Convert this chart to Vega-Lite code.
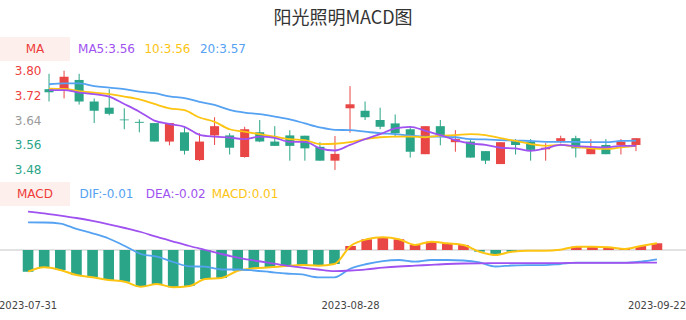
{
  "$schema": "https://vega.github.io/schema/vega-lite/v6.json",
  "width": 686,
  "height": 290,
  "autosize": {"type": "none"},
  "padding": {"top": 30, "left": 0, "right": 0, "bottom": 0},
  "background": "white",
  "title": {"text": "阳光照明MACD图", "font": "Noto Sans CJK SC", "fontSize": 18, "fontWeight": "normal", "color": "#333333", "anchor": "middle", "frame": "group", "offset": 2},
  "config": {"view": {"stroke": null}, "font": "DejaVu Sans"},
  "datasets": {
    "k": [
      {"date": "2023-07-31", "open": 3.74, "close": 3.73, "high": 3.79, "low": 3.70, "ma5": 3.737, "ma10": 3.742, "ma20": 3.756, "dif": 0.0346, "dea": 0.0481, "macd": -0.0271},
      {"date": "2023-08-01", "open": 3.74, "close": 3.78, "high": 3.80, "low": 3.71, "ma5": 3.737, "ma10": 3.741, "ma20": 3.759, "dif": 0.0344, "dea": 0.0459, "macd": -0.0216},
      {"date": "2023-08-02", "open": 3.77, "close": 3.70, "high": 3.79, "low": 3.69, "ma5": 3.729, "ma10": 3.734, "ma20": 3.759, "dif": 0.0331, "dea": 0.0431, "macd": -0.025},
      {"date": "2023-08-03", "open": 3.70, "close": 3.67, "high": 3.71, "low": 3.63, "ma5": 3.724, "ma10": 3.729, "ma20": 3.750, "dif": 0.0263, "dea": 0.04, "macd": -0.0313},
      {"date": "2023-08-04", "open": 3.68, "close": 3.66, "high": 3.74, "low": 3.655, "ma5": 3.716, "ma10": 3.724, "ma20": 3.745, "dif": 0.0209, "dea": 0.0363, "macd": -0.0341},
      {"date": "2023-08-07", "open": 3.642, "close": 3.639, "high": 3.678, "low": 3.61, "ma5": 3.692, "ma10": 3.716, "ma20": 3.740, "dif": 0.0144, "dea": 0.0321, "macd": -0.0375},
      {"date": "2023-08-08", "open": 3.634, "close": 3.631, "high": 3.642, "low": 3.60, "ma5": 3.667, "ma10": 3.707, "ma20": 3.732, "dif": 0.005, "dea": 0.0275, "macd": -0.0396},
      {"date": "2023-08-09", "open": 3.63, "close": 3.57, "high": 3.63, "low": 3.57, "ma5": 3.638, "ma10": 3.692, "ma20": 3.727, "dif": -0.005, "dea": 0.0225, "macd": -0.0459},
      {"date": "2023-08-10", "open": 3.57, "close": 3.63, "high": 3.63, "low": 3.558, "ma5": 3.627, "ma10": 3.678, "ma20": 3.717, "dif": -0.0084, "dea": 0.0163, "macd": -0.0425},
      {"date": "2023-08-11", "open": 3.60, "close": 3.54, "high": 3.618, "low": 3.528, "ma5": 3.618, "ma10": 3.672, "ma20": 3.711, "dif": -0.015, "dea": 0.0106, "macd": -0.0466},
      {"date": "2023-08-14", "open": 3.51, "close": 3.57, "high": 3.597, "low": 3.507, "ma5": 3.592, "ma10": 3.648, "ma20": 3.699, "dif": -0.0204, "dea": 0.005, "macd": -0.045},
      {"date": "2023-08-15", "open": 3.59, "close": 3.62, "high": 3.649, "low": 3.559, "ma5": 3.586, "ma10": 3.634, "ma20": 3.689, "dif": -0.0209, "dea": 0.0, "macd": -0.0363},
      {"date": "2023-08-16", "open": 3.59, "close": 3.55, "high": 3.597, "low": 3.528, "ma5": 3.583, "ma10": 3.610, "ma20": 3.673, "dif": -0.0244, "dea": -0.005, "macd": -0.035},
      {"date": "2023-08-17", "open": 3.52, "close": 3.61, "high": 3.618, "low": 3.518, "ma5": 3.578, "ma10": 3.602, "ma20": 3.664, "dif": -0.0244, "dea": -0.0094, "macd": -0.0259},
      {"date": "2023-08-18", "open": 3.60, "close": 3.57, "high": 3.64, "low": 3.568, "ma5": 3.586, "ma10": 3.594, "ma20": 3.659, "dif": -0.0256, "dea": -0.0131, "macd": -0.0229},
      {"date": "2023-08-21", "open": 3.57, "close": 3.556, "high": 3.62, "low": 3.556, "ma5": 3.582, "ma10": 3.586, "ma20": 3.651, "dif": -0.0275, "dea": -0.0163, "macd": -0.0216},
      {"date": "2023-08-22", "open": 3.59, "close": 3.556, "high": 3.607, "low": 3.508, "ma5": 3.569, "ma10": 3.578, "ma20": 3.642, "dif": -0.0294, "dea": -0.0194, "macd": -0.02},
      {"date": "2023-08-23", "open": 3.589, "close": 3.548, "high": 3.589, "low": 3.508, "ma5": 3.569, "ma10": 3.575, "ma20": 3.629, "dif": -0.0306, "dea": -0.0221, "macd": -0.0188},
      {"date": "2023-08-24", "open": 3.553, "close": 3.508, "high": 3.568, "low": 3.508, "ma5": 3.548, "ma10": 3.562, "ma20": 3.616, "dif": -0.0341, "dea": -0.0244, "macd": -0.0196},
      {"date": "2023-08-25", "open": 3.508, "close": 3.53, "high": 3.588, "low": 3.478, "ma5": 3.541, "ma10": 3.563, "ma20": 3.608, "dif": -0.0341, "dea": -0.0263, "macd": -0.0175},
      {"date": "2023-08-28", "open": 3.678, "close": 3.691, "high": 3.75, "low": 3.599, "ma5": 3.559, "ma10": 3.568, "ma20": 3.607, "dif": -0.0231, "dea": -0.0256, "macd": 0.005},
      {"date": "2023-08-29", "open": 3.67, "close": 3.649, "high": 3.70, "low": 3.64, "ma5": 3.578, "ma10": 3.578, "ma20": 3.602, "dif": -0.0175, "dea": -0.0241, "macd": 0.0134},
      {"date": "2023-08-30", "open": 3.64, "close": 3.618, "high": 3.68, "low": 3.61, "ma5": 3.594, "ma10": 3.584, "ma20": 3.597, "dif": -0.0138, "dea": -0.0221, "macd": 0.0159},
      {"date": "2023-08-31", "open": 3.629, "close": 3.597, "high": 3.658, "low": 3.584, "ma5": 3.613, "ma10": 3.586, "ma20": 3.594, "dif": -0.0125, "dea": -0.0206, "macd": 0.0134},
      {"date": "2023-09-01", "open": 3.61, "close": 3.537, "high": 3.618, "low": 3.518, "ma5": 3.618, "ma10": 3.586, "ma20": 3.589, "dif": -0.0146, "dea": -0.0196, "macd": 0.0063},
      {"date": "2023-09-04", "open": 3.529, "close": 3.62, "high": 3.62, "low": 3.529, "ma5": 3.605, "ma10": 3.584, "ma20": 3.586, "dif": -0.0125, "dea": -0.0185, "macd": 0.0104},
      {"date": "2023-09-05", "open": 3.62, "close": 3.591, "high": 3.64, "low": 3.558, "ma5": 3.591, "ma10": 3.589, "ma20": 3.586, "dif": -0.0125, "dea": -0.0175, "macd": 0.0084},
      {"date": "2023-09-06", "open": 3.568, "close": 3.578, "high": 3.607, "low": 3.537, "ma5": 3.575, "ma10": 3.591, "ma20": 3.584, "dif": -0.0131, "dea": -0.0169, "macd": 0.0063},
      {"date": "2023-09-07", "open": 3.57, "close": 3.518, "high": 3.575, "low": 3.518, "ma5": 3.564, "ma10": 3.594, "ma20": 3.578, "dif": -0.0156, "dea": -0.0166, "macd": -0.0021},
      {"date": "2023-09-08", "open": 3.539, "close": 3.508, "high": 3.539, "low": 3.497, "ma5": 3.559, "ma10": 3.591, "ma20": 3.577, "dif": -0.0206, "dea": -0.0165, "macd": -0.0063},
      {"date": "2023-09-11", "open": 3.497, "close": 3.568, "high": 3.568, "low": 3.497, "ma5": 3.550, "ma10": 3.581, "ma20": 3.575, "dif": -0.0194, "dea": -0.0164, "macd": -0.0021},
      {"date": "2023-09-12", "open": 3.572, "close": 3.559, "high": 3.578, "low": 3.528, "ma5": 3.548, "ma10": 3.572, "ma20": 3.573, "dif": -0.0188, "dea": -0.0163, "macd": -0.0009},
      {"date": "2023-09-13", "open": 3.57, "close": 3.543, "high": 3.578, "low": 3.508, "ma5": 3.540, "ma10": 3.562, "ma20": 3.572, "dif": -0.0188, "dea": -0.0163, "macd": -0.0009},
      {"date": "2023-09-14", "open": 3.545, "close": 3.55, "high": 3.565, "low": 3.508, "ma5": 3.548, "ma10": 3.556, "ma20": 3.569, "dif": -0.0175, "dea": -0.0163, "macd": 0.0003},
      {"date": "2023-09-15", "open": 3.572, "close": 3.581, "high": 3.589, "low": 3.564, "ma5": 3.559, "ma10": 3.559, "ma20": 3.569, "dif": -0.0159, "dea": -0.0161, "macd": 0.0041},
      {"date": "2023-09-18", "open": 3.581, "close": 3.548, "high": 3.589, "low": 3.518, "ma5": 3.555, "ma10": 3.553, "ma20": 3.569, "dif": -0.0159, "dea": -0.0161, "macd": 0.0041},
      {"date": "2023-09-19", "open": 3.529, "close": 3.548, "high": 3.578, "low": 3.529, "ma5": 3.553, "ma10": 3.548, "ma20": 3.568, "dif": -0.0159, "dea": -0.016, "macd": 0.0034},
      {"date": "2023-09-20", "open": 3.559, "close": 3.529, "high": 3.578, "low": 3.529, "ma5": 3.551, "ma10": 3.546, "ma20": 3.568, "dif": -0.0159, "dea": -0.016, "macd": 0.0013},
      {"date": "2023-09-21", "open": 3.559, "close": 3.57, "high": 3.578, "low": 3.528, "ma5": 3.556, "ma10": 3.551, "ma20": 3.572, "dif": -0.0144, "dea": -0.0159, "macd": 0.005},
      {"date": "2023-09-22", "open": 3.559, "close": 3.581, "high": 3.581, "low": 3.539, "ma5": 3.556, "ma10": 3.556, "ma20": 3.573, "dif": -0.0116, "dea": -0.0159, "macd": 0.0084}
    ],
    "boxes": [
      {"kind": "panel", "panel": "MA", "label": "MA"},
      {"kind": "panel", "panel": "MACD", "label": "MACD"}
    ],
    "maLegend": [
      {"panel": "MA", "series": "MA5", "label": "MA5:3.56"},
      {"panel": "MA", "series": "MA10", "label": "10:3.56"},
      {"panel": "MA", "series": "MA20", "label": "20:3.57"}
    ],
    "macdLegend": [
      {"panel": "MACD", "series": "DIF", "label": "DIF:-0.01"},
      {"panel": "MACD", "series": "DEA", "label": "DEA:-0.02"},
      {"panel": "MACD", "series": "MACD", "label": "MACD:0.01"}
    ]
  },
  "layer": [
    {
      "data": {"name": "k"},
      "encoding": {
        "x": {"field": "date", "type": "ordinal", "scale": {"type": "band", "range": [41.5, 643.5], "paddingInner": 0, "paddingOuter": 0}, "axis": null}
      },
      "layer": [
        {
          "mark": {"type": "rule", "strokeWidth": 1},
          "encoding": {
            "y": {"field": "low", "type": "quantitative", "scale": {"domain": [3.48, 3.80], "range": [139.3, 40.7], "zero": false, "nice": false},
              "axis": {"values": [3.48, 3.56, 3.64, 3.72, 3.80], "orient": "left", "offset": -42, "domain": false, "ticks": false, "tickSize": 0, "grid": false, "labelPadding": 1, "labelFontSize": 12, "labelFont": "DejaVu Sans", "format": ".2f", "title": null,
                "labelColor": {"expr": "datum.value > 3.65 ? '#ee4040' : (datum.value > 3.6 ? '#9a9a9a' : '#2aa587')"}}},
            "y2": {"field": "high"},
            "color": {"condition": {"test": "datum.close > datum.open", "value": "#e94646"}, "value": "#2aa587"}
          }
        },
        {
          "mark": {"type": "bar", "width": {"band": 0.6}},
          "encoding": {
            "y": {"field": "open", "type": "quantitative"},
            "y2": {"field": "close"},
            "color": {"condition": {"test": "datum.close > datum.open", "value": "#e94646"}, "value": "#2aa587"}
          }
        },
        {"mark": {"type": "line", "interpolate": "monotone", "strokeWidth": 1.8, "color": "#55a2f2"}, "encoding": {"y": {"field": "ma20", "type": "quantitative"}}},
        {"mark": {"type": "line", "interpolate": "monotone", "strokeWidth": 1.8, "color": "#fdc412"}, "encoding": {"y": {"field": "ma10", "type": "quantitative"}}},
        {"mark": {"type": "line", "interpolate": "monotone", "strokeWidth": 1.8, "color": "#a052f0"}, "encoding": {"y": {"field": "ma5", "type": "quantitative"}}}
      ]
    },
    {
      "data": {"name": "k"},
      "mark": {"type": "rule", "color": "#e2e2e2", "strokeWidth": 1},
      "encoding": {
        "y": {"datum": 0, "type": "quantitative", "scale": {"domain": [-0.05, 0.05], "range": [260, 180], "zero": false, "nice": false}, "axis": null}
      }
    },
    {
      "data": {"name": "k"},
      "encoding": {
        "x": {"field": "date", "type": "ordinal", "scale": {"type": "band", "range": [20, 665], "paddingInner": 0, "paddingOuter": 0},
          "axis": {"values": ["2023-07-31", "2023-08-28", "2023-09-22"], "orient": "bottom", "offset": -21, "domain": false, "ticks": false, "grid": false, "labelPadding": 1, "labelFontSize": 10, "labelFont": "DejaVu Sans", "labelColor": "#444444", "labelAngle": 0, "labelOverlap": false, "labelBound": false, "labelFlush": false, "title": null}}
      },
      "layer": [
        {
          "mark": {"type": "bar", "width": {"band": 0.66}},
          "encoding": {
            "y": {"field": "macd", "type": "quantitative", "scale": {"domain": [-0.05, 0.05], "range": [260, 180], "zero": false, "nice": false}, "axis": null},
            "y2": {"datum": 0},
            "color": {"condition": {"test": "datum.macd > 0", "value": "#e94646"}, "value": "#2aa587"}
          }
        },
        {"mark": {"type": "line", "interpolate": "monotone", "strokeWidth": 2, "color": "#fdc412"}, "encoding": {"y": {"field": "macd", "type": "quantitative"}}},
        {"mark": {"type": "line", "interpolate": "monotone", "strokeWidth": 1.8, "color": "#55a2f2"}, "encoding": {"y": {"field": "dif", "type": "quantitative"}}},
        {"mark": {"type": "line", "interpolate": "monotone", "strokeWidth": 1.8, "color": "#a052f0"}, "encoding": {"y": {"field": "dea", "type": "quantitative"}}}
      ]
    },
    {
      "data": {"name": "boxes"},
      "encoding": {
        "x": {"field": "kind", "type": "nominal", "scale": {"type": "band", "range": [0, 70], "paddingInner": 0, "paddingOuter": 0}, "axis": null},
        "y": {"field": "panel", "type": "nominal", "scale": {"type": "band", "domain": ["MA", "MACD"], "range": [7, 176], "paddingInner": 0.8345, "paddingOuter": 0}, "axis": null}
      },
      "layer": [
        {"mark": {"type": "rect", "color": "#fdf0ec"}},
        {"mark": {"type": "text", "color": "#ee3b3b", "fontSize": 12, "font": "DejaVu Sans", "align": "center", "baseline": "middle"}, "encoding": {"text": {"field": "label"}}}
      ]
    },
    {
      "data": {"name": "maLegend"},
      "mark": {"type": "text", "fontSize": 12, "font": "DejaVu Sans", "align": "right", "baseline": "middle"},
      "encoding": {
        "x": {"field": "series", "type": "nominal", "scale": {"type": "point", "domain": ["MA5", "MA10", "MA20"], "range": [135, 246], "padding": 0}, "axis": null},
        "y": {"field": "panel", "type": "nominal", "scale": {"type": "band", "domain": ["MA", "MACD"], "range": [7, 176], "paddingInner": 0.8345, "paddingOuter": 0}, "axis": null},
        "color": {"field": "series", "type": "nominal", "scale": {"domain": ["MA5", "MA10", "MA20"], "range": ["#a052f0", "#fdc412", "#55a2f2"]}, "legend": null},
        "text": {"field": "label"}
      }
    },
    {
      "data": {"name": "macdLegend"},
      "mark": {"type": "text", "fontSize": 12, "font": "DejaVu Sans", "align": "center", "baseline": "middle"},
      "encoding": {
        "x": {"field": "series", "type": "nominal", "scale": {"type": "point", "domain": ["DIF", "DEA", "MACD"], "range": [106.5, 245], "padding": 0}, "axis": null},
        "y": {"field": "panel", "type": "nominal", "scale": {"type": "band", "domain": ["MA", "MACD"], "range": [7, 176], "paddingInner": 0.8345, "paddingOuter": 0}, "axis": null},
        "color": {"field": "series", "type": "nominal", "scale": {"domain": ["DIF", "DEA", "MACD"], "range": ["#55a2f2", "#a052f0", "#fdc412"]}, "legend": null},
        "text": {"field": "label"}
      }
    }
  ],
  "resolve": {"scale": {"x": "independent", "y": "independent", "color": "independent"}}
}
